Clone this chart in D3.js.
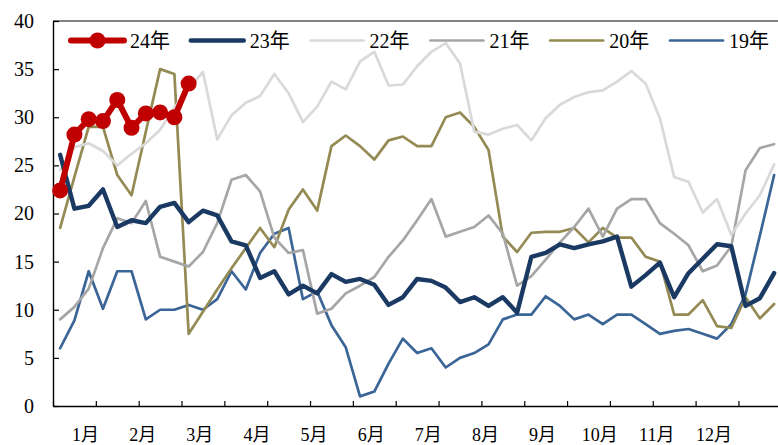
<!DOCTYPE html>
<html>
<head>
<meta charset="utf-8">
<script src="https://cdn.jsdelivr.net/npm/d3@7"></script>
<style>
  body { margin: 0; background: #fff; }
  text { font-family: "Liberation Serif", "Noto Sans CJK SC", serif; fill: #000; }
</style>
</head>
<body>
<div id="chart"></div>
<script>
// weekly values, 51 weeks per year
const months = ["1月", "2月", "3月", "4月", "5月", "6月", "7月", "8月", "9月", "10月", "11月", "12月"];
const yTicks = [0, 5, 10, 15, 20, 25, 30, 35, 40];
const seriesNames = ["24年", "23年", "22年", "21年", "20年", "19年"];

const y24 = [22.4, 28.2, 29.8, 29.6, 31.8, 28.9, 30.4, 30.5, 30.0, 33.5];
const y23 = [26.1, 20.5, 20.8, 22.5, 18.6, 19.3, 19.0, 20.7, 21.1, 19.1, 20.3, 19.8, 17.1, 16.7, 13.3, 14.0, 11.6,
  12.5, 11.7, 13.7, 12.9, 13.2, 12.6, 10.5, 11.3, 13.2, 13.0, 12.3, 10.8, 11.3, 10.4, 11.3, 9.7, 15.5, 15.9, 16.8,
  16.4, 16.8, 17.1, 17.6, 12.4, 13.6, 14.9, 11.3, 13.8, 15.3, 16.8, 16.6, 10.4, 11.2, 13.8];
const y22 = [24.5, 26.9, 27.3, 26.5, 25.0, 26.2, 27.3, 28.7, 31.0, 33.0, 34.7, 27.7, 30.2, 31.5, 32.2, 34.5, 32.5,
  29.5, 31.1, 33.7, 32.9, 35.8, 36.8, 33.3, 33.4, 35.3, 36.8, 37.7, 35.6, 28.5, 28.2, 28.8, 29.2, 27.6, 29.9, 31.3,
  32.1, 32.6, 32.8, 33.7, 34.8, 33.5, 29.9, 23.8, 23.3, 20.1, 21.5, 17.8, 20.0, 21.9, 25.1];
const y21 = [9.0, 10.3, 12.2, 16.4, 19.5, 19.0, 21.3, 15.5, 15.0, 14.5, 16.0, 19.0, 23.5, 24.0, 22.3, 17.5, 15.9,
  16.2, 9.6, 10.1, 11.7, 12.5, 13.4, 15.5, 17.2, 19.3, 21.5, 17.6, 18.1, 18.6, 19.8, 17.9, 12.5, 13.5, 15.2, 17.0,
  18.6, 20.5, 17.6, 20.5, 21.5, 21.5, 19.0, 17.9, 16.7, 14.0, 14.6, 16.6, 24.5, 26.8, 27.2];
const y20 = [18.5, 23.8, 29.0, 29.0, 24.0, 21.9, 28.5, 35.0, 34.5, 7.5, 9.8, 12.1, 14.3, 16.4, 18.5, 16.5, 20.4,
  22.5, 20.3, 27.0, 28.1, 27.0, 25.6, 27.6, 28.0, 27.0, 27.0, 30.0, 30.5, 29.0, 26.6, 17.6, 16.0, 18.0, 18.1, 18.1,
  18.5, 17.0, 18.5, 17.5, 17.5, 15.5, 15.0, 9.5, 9.5, 11.0, 8.3, 8.1, 11.3, 9.1, 10.6];
const y19 = [6.0, 8.9, 14.0, 10.1, 14.0, 14.0, 9.0, 10.0, 10.0, 10.5, 10.0, 11.1, 14.0, 12.1, 15.9, 17.9, 18.5,
  11.1, 11.9, 8.4, 6.1, 1.0, 1.5, 4.4, 7.0, 5.5, 6.0, 4.0, 5.0, 5.5, 6.4, 9.0, 9.5, 9.5, 11.4, 10.4,
  9.0, 9.5, 8.5, 9.5, 9.5, 8.5, 7.5, 7.8, 8.0, 7.5, 7.0, 8.5, 11.6, 17.7, 24.0];

const W = 778, H = 445;
const plotLeft = 53, plotTop = 21, plotBottom = 406, nCat = 51, catW = 14.28;

const styles = {
  "24年": { color: "#C00000", width: 6, values: y24, markers: true },
  "23年": { color: "#1B3A63", width: 4.4, values: y23 },
  "22年": { color: "#D9D9D9", width: 2.7, values: y22 },
  "21年": { color: "#A6A6A6", width: 2.7, values: y21 },
  "20年": { color: "#948A54", width: 2.7, values: y20 },
  "19年": { color: "#3A6596", width: 2.7, values: y19 }
};

const svg = d3.select("#chart").append("svg")
  .attr("width", W).attr("height", H);

const x = d3.scaleBand().domain(d3.range(nCat)).range([plotLeft, plotLeft + nCat * catW]);
const xl = d3.scaleLinear().domain([0, nCat]).range(x.range());
const y = d3.scaleLinear().domain([0, 40]).range([plotBottom, plotTop]);
const cx = i => x(i) + x.bandwidth() / 2;

// top border
svg.append("line")
  .attr("x1", plotLeft).attr("x2", W)
  .attr("y1", y(40)).attr("y2", y(40))
  .attr("stroke", "#595959").attr("stroke-width", 1.3);

// y axis
const yAxis = svg.append("g")
  .attr("transform", `translate(${plotLeft},0)`)
  .call(d3.axisLeft(y).tickValues(yTicks).tickSizeInner(-6).tickSizeOuter(0).tickPadding(19));
yAxis.select(".domain").attr("stroke", "#000").attr("stroke-width", 1.4);
yAxis.selectAll(".tick line").attr("stroke", "#000").attr("stroke-width", 1.2);
yAxis.selectAll(".tick text").style("font-size", "20px")
  .style("font-family", "'Liberation Serif', serif");

// x axis
const xAxis = svg.append("g")
  .attr("transform", `translate(0,${plotBottom})`)
  .call(d3.axisBottom(xl).tickValues(d3.range(0, nCat, 3)).tickSizeInner(-5).tickSizeOuter(0).tickFormat(""));
xAxis.select(".domain").attr("stroke", "#000").attr("stroke-width", 1.4);
xAxis.selectAll(".tick line").attr("stroke", "#000").attr("stroke-width", 1.2);

const mb = d3.scaleBand().domain(months).range([xl(0), xl(48)]);
svg.append("g").selectAll("text")
  .data(months)
  .join("text")
  .attr("x", d => mb(d) + mb.bandwidth() / 2 + 4)
  .attr("y", 441)
  .attr("text-anchor", "middle")
  .style("font-size", "18px")
  .text(d => d);

// lines, oldest year first so 24年 ends on top
const line = d3.line()
  .x((d, i) => cx(i))
  .y(d => y(d));

const drawOrder = seriesNames.slice().reverse();
drawOrder.forEach(name => {
  const s = styles[name];
  svg.append("path")
    .datum(s.values)
    .attr("fill", "none")
    .attr("stroke", s.color)
    .attr("stroke-width", s.width)
    .attr("stroke-linejoin", "round")
    .attr("stroke-linecap", "round")
    .attr("d", line);
  if (s.markers) {
    svg.append("g").selectAll("circle")
      .data(s.values)
      .join("circle")
      .attr("cx", (d, i) => cx(i))
      .attr("cy", d => y(d))
      .attr("r", 8)
      .attr("fill", s.color);
  }
});

// legend
const legendY = 40.5;
const legend = svg.append("g").selectAll("g")
  .data(seriesNames)
  .join("g")
  .attr("transform", (d, i) => `translate(${71 + i * 119.8},${legendY})`);

legend.append("line")
  .attr("x1", 0).attr("x2", 53)
  .attr("stroke", d => styles[d].color)
  .attr("stroke-width", d => styles[d].width)
  .attr("stroke-linecap", "round");

legend.filter(d => styles[d].markers)
  .append("circle")
  .attr("cx", 26.5).attr("r", 8)
  .attr("fill", d => styles[d].color);

legend.append("text")
  .attr("x", 59)
  .attr("y", 7)
  .style("font-size", "20px")
  .text(d => d);
</script>
</body>
</html>
